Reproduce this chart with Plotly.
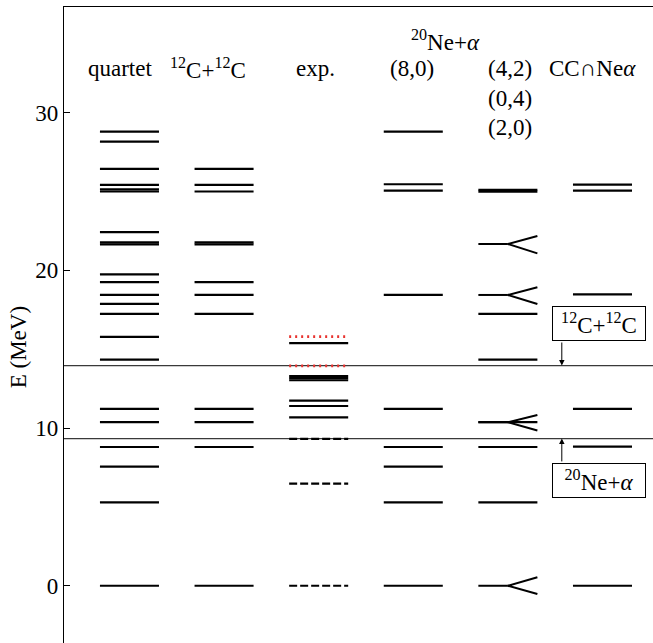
import plotly.graph_objects as go

# ---------------- data (MeV) ----------------
columns = ["quartet", "12C+12C", "exp.", "(8,0)", "(4,2)", "CC∩Neα"]
quartet_levels = [0.0, 5.29, 7.55, 8.80, 10.37, 11.21, 14.34, 15.78, 17.24, 17.87,
                  18.44, 19.26, 19.75, 21.65, 21.78, 22.42, 25.00, 25.13, 25.42,
                  26.43, 28.16, 28.80]
cc_levels = [0.0, 8.80, 10.37, 11.21, 17.24, 18.44, 19.26, 21.65, 21.78,
             25.00, 25.42, 26.43]
exp_levels = [10.68, 11.40, 11.74, 13.03, 13.17, 13.30, 15.38]
exp_dashed = [0.0, 6.47, 9.31]
exp_dotted = [13.94, 15.80]
su3_80_levels = [0.0, 5.29, 7.55, 8.80, 11.21, 18.44, 25.05, 25.46, 28.80]
su3_42_levels = [5.29, 8.80, 10.37, 14.34, 17.24, 24.99, 25.10]
su3_42_fork = [0.0, 10.37, 18.44, 21.67]
fork_upper = [0.54, 10.83, 18.93, 22.18]
fork_lower = [-0.52, 9.84, 17.87, 21.08]
overlap_levels = [0.0, 8.82, 11.21, 18.48, 25.05, 25.44]
thresholds = [13.96, 9.33]
threshold_labels = ["<sup>12</sup>C+<sup>12</sup>C", "<sup>20</sup>Ne+<i>α</i>"]
y_ticks = [0, 10, 20, 30]

HW = 0.312  # half width of a level bar (column units)
FONT = "Liberation Serif"
FS = 23

def segs(col, levels):
    xs, ys = [], []
    for e in levels:
        xs += [col - HW, col + HW, None]
        ys += [e, e, None]
    return xs, ys

fig = go.Figure()

# threshold lines
for t in thresholds:
    fig.add_shape(type="line", xref="paper", x0=0, x1=1, yref="y", y0=t, y1=t,
                  line=dict(color="#3a3a3a", width=1.2), layer="below")

# solid levels
sx, sy = [], []
for col, lv in [(0, quartet_levels), (1, cc_levels), (2, exp_levels),
                (3, su3_80_levels), (4, su3_42_levels), (5, overlap_levels)]:
    x, y = segs(col, lv)
    sx += x
    sy += y
fig.add_trace(go.Scatter(x=sx, y=sy, mode="lines",
                         line=dict(color="black", width=2.2), hoverinfo="skip"))

# exp dashed levels
x, y = segs(2, exp_dashed)
fig.add_trace(go.Scatter(x=x, y=y, mode="lines",
                         line=dict(color="black", width=2.2, dash="8px,3px"),
                         hoverinfo="skip"))

# exp red dotted levels
x, y = segs(2, exp_dotted)
fig.add_trace(go.Scatter(x=x, y=y, mode="lines",
                         line=dict(color="#e8332f", width=2.6, dash="2px,4px"),
                         hoverinfo="skip"))

# forks in (4,2) column
fx, fy = [], []
for e, up, lo in zip(su3_42_fork, fork_upper, fork_lower):
    fx += [4 - HW, 4, None, 4 + HW, 4, 4 + HW, None]
    fy += [e, e, None, up, e, lo, None]
fig.add_trace(go.Scatter(x=fx, y=fy, mode="lines",
                         line=dict(color="black", width=2.0), hoverinfo="skip"))

# headers
hdr_font = dict(family=FONT, size=FS, color="black")
header_x = [-0.10, 0.83, 1.97, 2.99, 4.02, 4.89]
header_text = ["quartet", "<sup>12</sup>C+<sup>12</sup>C", "exp.", "(8,0)", "(4,2)",
               "CC∩Ne<i>α</i>"]
for hx, ht in zip(header_x, header_text):
    fig.add_annotation(x=hx, y=32.77, text=ht, showarrow=False, font=hdr_font,
                       xanchor="center", yanchor="middle")
fig.add_annotation(x=3.34, y=34.6, text="<sup>20</sup>Ne+<i>α</i>", showarrow=False,
                   font=hdr_font)
fig.add_annotation(x=4.02, y=30.87, text="(0,4)", showarrow=False, font=hdr_font)
fig.add_annotation(x=4.02, y=29.03, text="(2,0)", showarrow=False, font=hdr_font)

# y-axis title
fig.add_annotation(xref="paper", yref="paper", x=-0.078, y=0.465,
                   text="E (MeV)", textangle=-90, showarrow=False, font=hdr_font,
                   xanchor="center", yanchor="middle")

# threshold boxes with arrows
box_y = [16.63, 6.68]
arrow_tail = [15.52, 7.79]
for t, lab, by, tail in zip(thresholds, threshold_labels, box_y, arrow_tail):
    fig.add_annotation(x=4.96, y=by, text=lab, showarrow=False, font=hdr_font,
                       bordercolor="black", borderwidth=1, borderpad=1,
                       width=90, height=31, bgcolor="white")
    fig.add_annotation(x=4.57, y=t, ax=4.57, ay=tail, axref="x", ayref="y",
                       text="", showarrow=True, arrowhead=2, arrowsize=1.1,
                       arrowwidth=1, arrowcolor="black", standoff=0)

fig.update_layout(
    width=653, height=643,
    margin=dict(l=64, r=0, t=7, b=0),
    plot_bgcolor="white", paper_bgcolor="white",
    showlegend=False,
    font=dict(family=FONT, size=FS, color="black"),
    xaxis=dict(range=[-0.692, 5.534], showgrid=False, zeroline=False,
               showticklabels=False, ticks="", side="top",
               showline=True, linecolor="black", linewidth=1.2, mirror=False),
    yaxis=dict(range=[-3.63, 36.70], showgrid=False, zeroline=False,
               tickvals=y_ticks, ticktext=[str(v) for v in y_ticks],
               ticks="inside", ticklen=6, tickwidth=1.2, tickcolor="black",
               showline=True, linecolor="black", linewidth=1.2, mirror=False,
               tickfont=dict(family=FONT, size=FS)),
)

fig.write_html("out.html", config={"displayModeBar": False})

# remove the default page margin so the figure sits at the window origin
with open("out.html", encoding="utf-8") as f:
    html = f.read()
html = html.replace("<head>", "<head><style>html,body{margin:0;padding:0;overflow:hidden;}</style>", 1)
with open("out.html", "w", encoding="utf-8") as f:
    f.write(html)
